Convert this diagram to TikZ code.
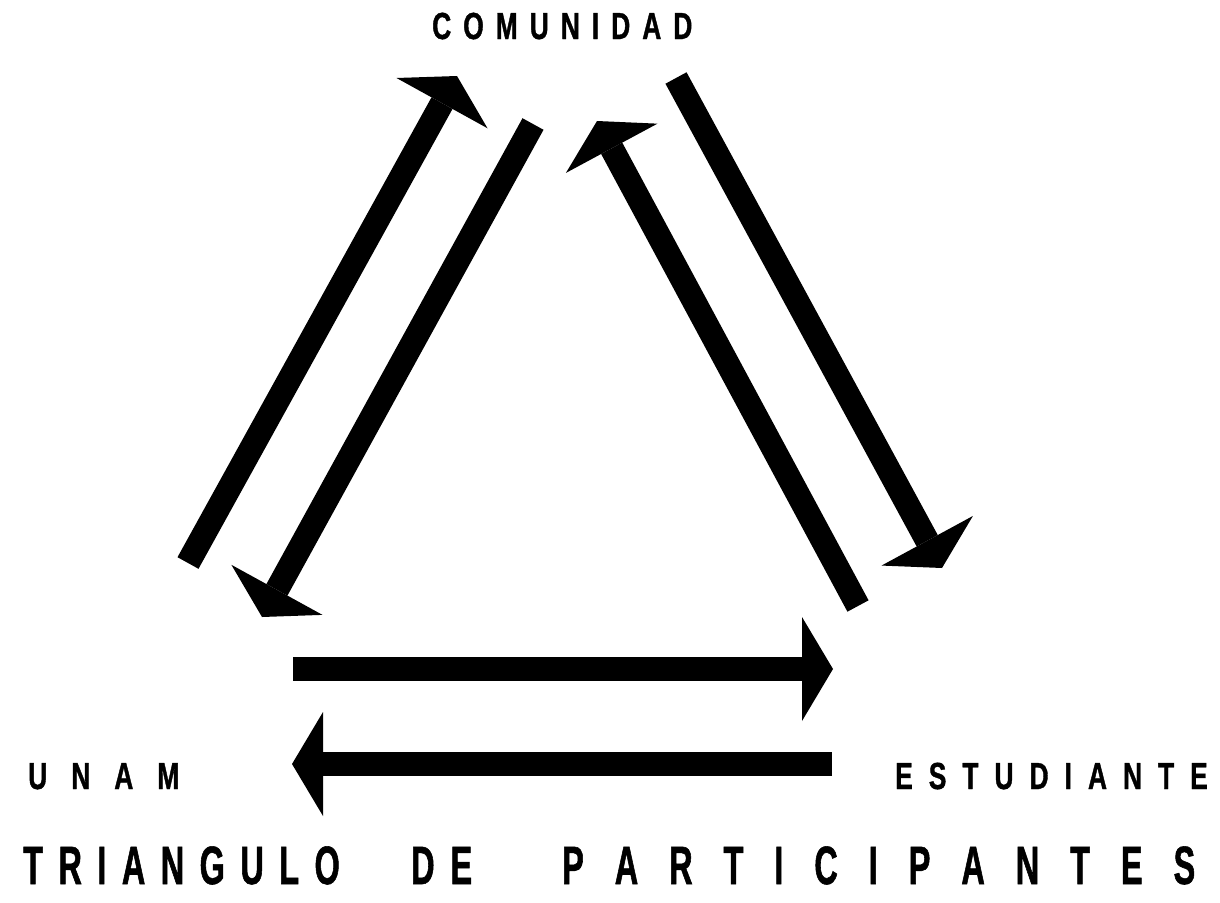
\documentclass[tikz,border=0pt]{standalone}
\usepackage{fontspec}
\usetikzlibrary{arrows.meta}
\newfontfamily\labfont{Liberation Sans}[UprightFont={* Bold},FakeStretch=0.7,FakeBold=1]
\newfontfamily\titfont{Liberation Sans}[UprightFont={* Bold},FakeStretch=0.6,FakeBold=1]
\makeatletter
\newcommand\spreadword[2]{{\def\sw@gap{#1}\let\sw@sep\relax\@tfor\sw@c:=#2\do{\sw@sep\sw@c\def\sw@sep{\hspace*{\sw@gap}}}}}
\makeatother
\begin{document}
\begin{tikzpicture}[x=1pt,y=-1pt,
  lab/.style={inner sep=0pt,anchor=base west,font=\labfont\fontsize{37.7}{40}\selectfont},
  tit/.style={inner sep=0pt,anchor=base west,font=\titfont\fontsize{54}{56}\selectfont},
  arr/.style={line width=24pt,-{Triangle[length=31pt,width=104pt,line width=0pt 0 0]}}]
\useasboundingbox (0,0) rectangle (1220,902);
% labels
\node[lab] (com) at (432,39) {\spreadword{12pt}{COMUNIDAD}};
\node[lab] (unam) at (28,789) {\spreadword{24pt}{UNAM}};
\node[lab] (est) at (895,789) {\spreadword{16pt}{ESTUDIANTE}};
\node[tit] (t1) at (23,884) {\spreadword{15.5pt}{TRIANGULO}};
\node[tit] (t2) at (411,884) {\spreadword{16pt}{DE}};
\node[tit] (t3) at (562,884) {\spreadword{31pt}{PARTICIPANTES}};
% arrow ends
\coordinate (a1s) at (188,563); \coordinate (a1e) at (457,76);
\coordinate (a2s) at (533,124); \coordinate (a2e) at (262,617);
\coordinate (a3s) at (676,78);  \coordinate (a3e) at (942,568);
\coordinate (a4s) at (858,606); \coordinate (a4e) at (597,121);
\coordinate (h1s) at (293,669); \coordinate (h1e) at (833,669);
\coordinate (h2s) at (832,764); \coordinate (h2e) at (292,764);
% arrows
\draw[arr] (a1s) -- (a1e);
\draw[arr] (a2s) -- (a2e);
\draw[arr] (a3s) -- (a3e);
\draw[arr] (a4s) -- (a4e);
\draw[arr] (h1s) -- (h1e);
\draw[arr] (h2s) -- (h2e);
\end{tikzpicture}
\end{document}
